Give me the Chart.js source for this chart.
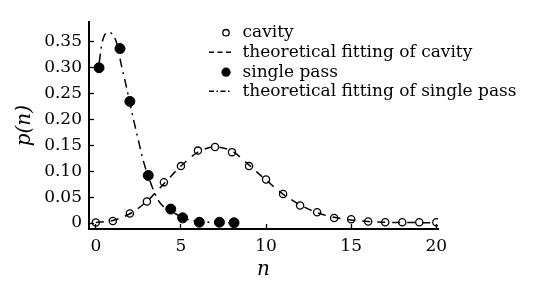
<!DOCTYPE html>
<html><head><meta charset="utf-8">
<script src="https://cdn.jsdelivr.net/npm/chart.js@4.4.0/dist/chart.umd.min.js"></script>
<style>html,body{margin:0;padding:0;background:#fff;}</style>
</head><body>
<canvas id="c" width="534" height="286"></canvas>
<script>
// ---- data ----
const nCavity = [0,1,2,3,4,5,6,7,8,9,10,11,12,13,14,15,16,17,18,19,20];
const pCavity = [0.001,0.004,0.0185,0.0415,0.079,0.110,0.140,0.147,0.137,0.110,0.084,0.056,0.034,0.021,0.0097,0.0074,0.003,0.0015,0.0015,0.0015,0.0015];
const nCavityFit = [0,1,2,3,4,5,6,7,8,9,10,11,12,13,14,15,16,17,18,19,20];
const pCavityFit = [0.001,0.005,0.018,0.042,0.076,0.110,0.137,0.147,0.139,0.112,0.083,0.056,0.035,0.020,0.011,0.006,0.003,0.0015,0.001,0.0008,0.0005];
const nSingle = [0.19,1.42,2.0,3.08,4.4,5.1,6.08,7.26,8.12];
const pSingle = [0.300,0.337,0.235,0.092,0.027,0.010,0.0015,0.0015,0.0005];
const nSingleFit = [0.2,0.35,0.5,0.75,1.0,1.25,1.5,1.75,2.0,2.25,2.5,2.75,3.0,3.25,3.5,3.75,4.0,4.5,5.0,5.5,6.0,7.0,8.2];
const pSingleFit = [0.31,0.345,0.362,0.368,0.364,0.345,0.305,0.27,0.232,0.195,0.16,0.125,0.098,0.075,0.055,0.040,0.031,0.022,0.012,0.006,0.003,0.001,0.0005];
const xTicks = [0,5,10,15,20];
const yTicks = [0,0.05,0.10,0.15,0.20,0.25,0.30,0.35];
const seriesLabels = ['cavity','theoretical fitting of cavity','single pass','theoretical fitting of single pass'];
const xTitle = 'n';
const yTitle = 'p(n)';

const pts = (xs, ys) => xs.map((x, i) => ({x, y: ys[i]}));
const SERIF = '"DejaVu Serif", serif';

const legendPlugin = {
  id: 'insideLegend',
  afterDraw(chart) {
    const ctx = chart.ctx;
    const ds = chart.data.datasets;
    const baselines = [37, 57, 76.5, 96];
    const lineX0 = 209, lineX1 = 232, markX = 226, textX = 242.5;
    ctx.save();
    ctx.font = '17px ' + SERIF;
    ctx.textAlign = 'left';
    ctx.textBaseline = 'alphabetic';
    ds.forEach((d, i) => {
      const yb = baselines[i];
      ctx.strokeStyle = '#000';
      ctx.fillStyle = '#000';
      if (d.pointRadius > 0) {
        ctx.setLineDash([]);
        ctx.lineWidth = d.pointBorderWidth;
        ctx.beginPath();
        const r = d.pointBackgroundColor === '#000' ? 4.6 : 3.2;
        ctx.arc(markX, yb - 4.3, r, 0, Math.PI * 2);
        if (d.pointBackgroundColor === '#000') ctx.fill(); else ctx.stroke();
      } else {
        ctx.setLineDash(d.legendDash);
        ctx.lineWidth = d.borderWidth;
        ctx.beginPath();
        ctx.moveTo(lineX0, yb - 4.8);
        ctx.lineTo(lineX1, yb - 4.8);
        ctx.stroke();
      }
      ctx.setLineDash([]);
      ctx.fillText(d.label, textX, yb);
    });
    ctx.restore();
  }
};

new Chart(document.getElementById('c'), {
  type: 'line',
  data: {
    datasets: [
      { label: seriesLabels[0], data: pts(nCavity, pCavity), showLine: false,
        pointRadius: 3.6, pointBorderWidth: 1.3, pointBorderColor: '#000', pointBackgroundColor: 'rgba(0,0,0,0)',
        borderColor: '#000' },
      { label: seriesLabels[1], data: pts(nCavityFit, pCavityFit), showLine: true, pointRadius: 0,
        borderColor: '#000', borderWidth: 1.5, borderDash: [8,7], legendDash: [5,3.5], tension: 0.35, cubicInterpolationMode: 'monotone' },
      { label: seriesLabels[2], data: pts(nSingle, pSingle), showLine: false,
        pointRadius: 5, pointBorderWidth: 1, pointBorderColor: '#000', pointBackgroundColor: '#000',
        borderColor: '#000' },
      { label: seriesLabels[3], data: pts(nSingleFit, pSingleFit), showLine: true, pointRadius: 0,
        borderColor: '#000', borderWidth: 1.5, borderDash: [9,5,2,5], legendDash: [5,2.5,1.5,2.5], cubicInterpolationMode: 'monotone' }
    ]
  },
  options: {
    responsive: false,
    animation: false,
    devicePixelRatio: 1,
    layout: { padding: { top: 3, right: 96, left: 0, bottom: 0 } },
    plugins: { legend: { display: false }, tooltip: { enabled: false } },
    scales: {
      x: {
        type: 'linear', min: -0.4, max: 20.1,
        afterBuildTicks: s => { s.ticks = xTicks.map(v => ({value: v})); },
        afterFit: s => { s.height = 57; },
        border: { display: true, color: '#000', width: 2 },
        grid: { display: true, drawOnChartArea: false, drawTicks: true, tickLength: -5, tickWidth: 1.3, tickColor: '#000' },
        ticks: { color: '#000', padding: 12, font: { family: SERIF, size: 17 }, callback: v => String(v), maxRotation: 0 },
        title: { display: true, text: xTitle, color: '#000', font: { family: SERIF, size: 20, style: 'italic' }, padding: { top: 0, bottom: 4 } }
      },
      y: {
        type: 'linear', min: -0.0115, max: 0.388,
        afterBuildTicks: s => { s.ticks = yTicks.map(v => ({value: v})); },
        afterFit: s => { s.width = 89; },
        border: { display: true, color: '#000', width: 2 },
        grid: { display: true, drawOnChartArea: false, drawTicks: true, tickLength: -5, tickWidth: 1.3, tickColor: '#000' },
        ticks: { color: '#000', padding: 12, font: { family: SERIF, size: 17 }, callback: v => (v === 0 ? '0' : v.toFixed(2)) },
        title: { display: true, text: yTitle, color: '#000', font: { family: SERIF, size: 20, style: 'italic' }, padding: { top: 13, bottom: 0 } }
      }
    }
  },
  plugins: [legendPlugin]
});
</script>
</body></html>
